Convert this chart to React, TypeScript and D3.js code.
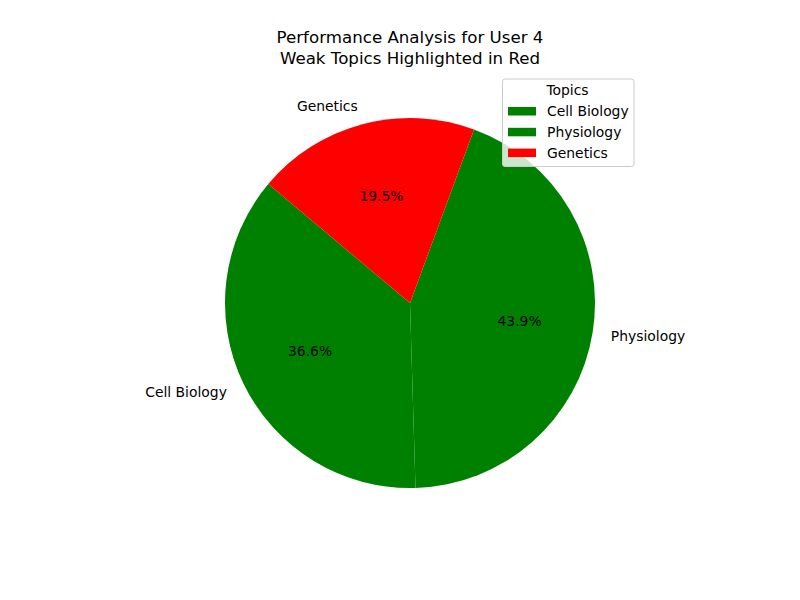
import React from "react";
import * as d3 from "d3";

const topics = ["Cell Biology", "Physiology", "Genetics"];
const scores = [15, 18, 8];
const colors = ["green", "green", "red"];
const titleLines = ["Performance Analysis for User 4", "Weak Topics Highlighted in Red"];
const legendTitle = "Topics";

const W = 800, H = 600;
const cx = 410, cy = 303, R = 185;
const startDeg = 140;
const FONT = "DejaVu Sans, sans-serif";

export default function App() {
  const total = d3.sum(scores);
  const angle = d3.scaleLinear().domain([0, total]).range([0, 2 * Math.PI]);
  const start = (startDeg * Math.PI) / 180;
  let cum = 0;
  const slices = scores.map((v, i) => {
    const a0 = start + angle(cum);
    cum += v;
    const a1 = start + angle(cum);
    return { i, v, a0, a1 };
  });
  // matplotlib angles: counterclockwise from +x; convert to d3 (clockwise from 12 o'clock)
  const toD3 = (a: number) => Math.PI / 2 - a;
  const arc = d3.arc<any>().innerRadius(0).outerRadius(R);
  const fmt = d3.format(".1f");

  return (
    <svg width={W} height={H} style={{ display: "block", position: "absolute", left: 0, top: 0 }} fontFamily={FONT}>
      <rect width={W} height={H} fill="white" />
      {slices.map((s) => (
        <path
          key={s.i}
          transform={`translate(${cx},${cy})`}
          d={arc({ startAngle: toD3(s.a1), endAngle: toD3(s.a0) }) as string}
          fill={colors[s.i]}
        />
      ))}
      {slices.map((s) => {
        const mid = (s.a0 + s.a1) / 2;
        const lx = cx + 1.1 * R * Math.cos(mid);
        const ly = cy - 1.1 * R * Math.sin(mid);
        const px = cx + 0.6 * R * Math.cos(mid);
        const py = cy - 0.6 * R * Math.sin(mid);
        return (
          <g key={"t" + s.i} fontSize={13.9} fill="black">
            <text x={lx} y={ly} textAnchor={Math.cos(mid) < 0 ? "end" : "start"} dominantBaseline="central">
              {topics[s.i]}
            </text>
            <text x={px} y={py} textAnchor="middle" dominantBaseline="central">
              {fmt((s.v / total) * 100) + "%"}
            </text>
          </g>
        );
      })}
      {titleLines.map((t, i) => (
        <text key={"title" + i} x={cx} y={43 + i * 20.5} textAnchor="middle" fontSize={16.67} fill="black">
          {t}
        </text>
      ))}
      <g>
        <rect x={502.5} y={79} width={131.5} height={87.5} rx={2.5} fill="white" fillOpacity={0.8} stroke="#cccccc" strokeWidth={1} />
        <text x={567.5} y={90} textAnchor="middle" dominantBaseline="central" fontSize={13.9}>
          {legendTitle}
        </text>
        {topics.map((t, i) => (
          <g key={"lg" + i}>
            <rect x={508} y={107 + i * 20.8} width={28} height={8.5} fill={colors[i]} />
            <text x={547} y={111.2 + i * 20.8} dominantBaseline="central" fontSize={13.9}>
              {t}
            </text>
          </g>
        ))}
      </g>
    </svg>
  );
}
